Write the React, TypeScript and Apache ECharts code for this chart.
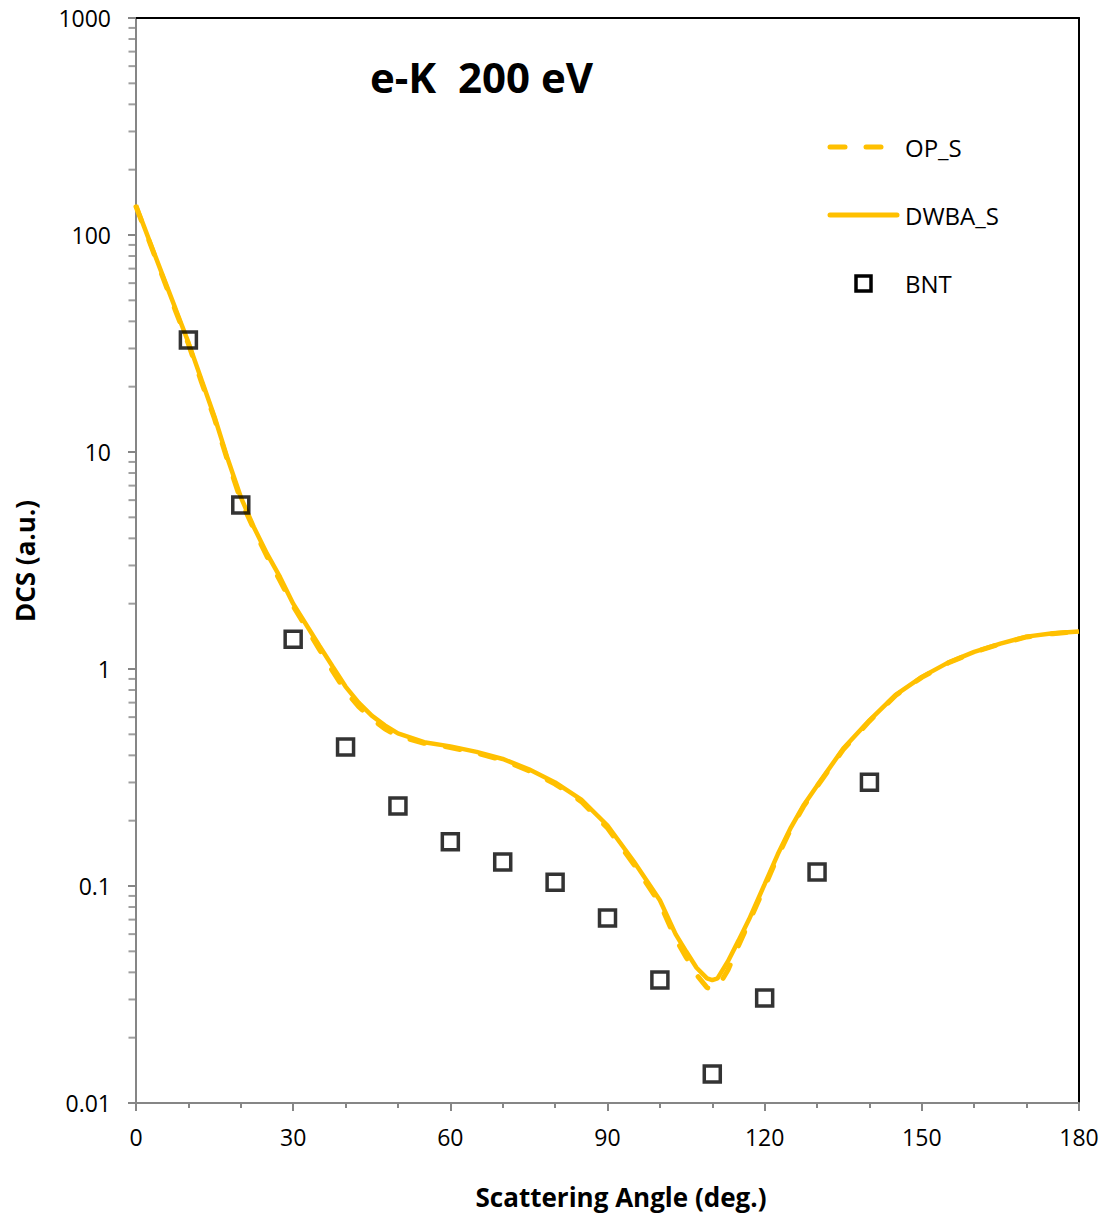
import React, { useEffect, useRef } from "react";
import * as echarts from "echarts";

const dwbaAngles = [0, 2.5, 5, 7.5, 10, 12.5, 15, 17.5, 20, 22.5, 25, 27.5, 30, 32.5, 35, 37.5, 40, 42.5, 45, 47.5, 50, 55, 60, 65, 70, 75, 80, 85, 90, 95, 100, 103, 105, 107, 109, 110, 111, 113, 115, 117, 120, 122.5, 125, 127.5, 130, 135, 140, 145, 150, 155, 160, 165, 170, 175, 180];
const dwbaValues = [137, 95, 66, 46, 32, 21.5, 14.5, 9.3, 6.2, 4.5, 3.4, 2.65, 2.0, 1.6, 1.28, 1.03, 0.83, 0.70, 0.61, 0.55, 0.505, 0.46, 0.44, 0.415, 0.385, 0.345, 0.30, 0.25, 0.19, 0.13, 0.086, 0.060, 0.050, 0.042, 0.0375, 0.0368, 0.0375, 0.045, 0.056, 0.070, 0.102, 0.140, 0.186, 0.237, 0.29, 0.43, 0.58, 0.76, 0.92, 1.07, 1.20, 1.31, 1.41, 1.46, 1.49];

const opAngles = dwbaAngles;
const opValues = [135, 94, 65, 45, 31.5, 21, 14.2, 9.1, 6.0, 4.4, 3.3, 2.55, 1.95, 1.55, 1.23, 0.98, 0.79, 0.67, 0.59, 0.53, 0.49, 0.455, 0.435, 0.41, 0.38, 0.34, 0.295, 0.245, 0.185, 0.126, 0.083, 0.057, 0.047, 0.039, 0.034, 0.0335, 0.034, 0.041, 0.053, 0.068, 0.099, 0.137, 0.183, 0.234, 0.287, 0.425, 0.575, 0.755, 0.915, 1.065, 1.195, 1.305, 1.405, 1.455, 1.49];

const bntAngles = [10, 20, 30, 40, 50, 60, 70, 80, 90, 100, 110, 120, 130, 140];
const bntValues = [32.8, 5.7, 1.37, 0.437, 0.234, 0.16, 0.129, 0.104, 0.0713, 0.0369, 0.0136, 0.0305, 0.116, 0.301];

const xTicks = [0, 30, 60, 90, 120, 150, 180];
const yTickLabels = ["0.01", "0.1", "1", "10", "100", "1000"];

const GOLD = "#FFC000";
const AXIS_GRAY = "#868686";
const FONT = "'Open Sans', 'Noto Sans', sans-serif";

export default function App() {
  const ref = useRef<HTMLDivElement>(null);
  useEffect(() => {
    if (!ref.current) return;
    const chart = echarts.init(ref.current, undefined, { renderer: "svg" });

    const minorTickVals: number[] = [];
    for (let e = -2; e < 3; e++) {
      for (let k = 2; k <= 9; k++) minorTickVals.push(parseFloat((k * Math.pow(10, e)).toPrecision(3)));
    }

    const yLabel = (v: number) => {
      const s = v >= 1 ? String(Math.round(v)) : String(parseFloat(v.toPrecision(1)));
      return yTickLabels.includes(s) ? s : "";
    };

    const grid = { left: 136, right: 27, top: 18, bottom: 115, containLabel: false };

    chart.setOption({
      animation: false,
      backgroundColor: "#fff",
      grid,
      xAxis: [
        {
          type: "value",
          min: xTicks[0],
          max: xTicks[xTicks.length - 1],
          interval: 30,
          axisLine: { show: true, onZero: false, lineStyle: { color: AXIS_GRAY, width: 2 } },
          axisTick: { show: true, inside: false, length: 8, lineStyle: { color: AXIS_GRAY, width: 2 } },
          minorTick: { show: true, splitNumber: 3, length: 5, lineStyle: { color: AXIS_GRAY, width: 2 } },
          splitLine: { show: false },
          axisLabel: { color: "#000", fontSize: 23, fontFamily: FONT, margin: 22 },
        },
        {
          type: "value",
          position: "top",
          min: 0,
          max: 180,
          axisLine: { show: true, onZero: false, lineStyle: { color: "#000", width: 2 } },
          axisTick: { show: false },
          axisLabel: { show: false },
          splitLine: { show: false },
        },
      ],
      yAxis: [
        {
          type: "log",
          logBase: 10,
          min: 0.01,
          max: 1000,
          splitNumber: 5,
          axisLine: { show: true, onZero: false, lineStyle: { color: AXIS_GRAY, width: 2 } },
          axisTick: { show: true, inside: false, length: 8, lineStyle: { color: AXIS_GRAY, width: 2 } },
          splitLine: { show: false },
          axisLabel: { color: "#000", fontSize: 23, fontFamily: FONT, margin: 25, formatter: yLabel },
        },
        {
          type: "log",
          logBase: 10,
          min: 0.01,
          max: 1000,
          position: "right",
          axisLine: { show: true, onZero: false, lineStyle: { color: "#000", width: 2 } },
          axisTick: { show: false },
          axisLabel: { show: false },
          splitLine: { show: false },
        },
      ],
      series: [
        {
          name: "minorTicks",
          type: "scatter",
          silent: true,
          clip: false,
          z: 1,
          symbol: "rect",
          symbolSize: [7, 2],
          symbolOffset: [-4, 0],
          itemStyle: { color: AXIS_GRAY },
          data: minorTickVals.map((v) => [0, v]),
        },
        {
          name: "OP_S",
          type: "line",
          showSymbol: false,
          symbol: "none",
          z: 2,
          data: opAngles.map((a, i) => [a, opValues[i]]),
          lineStyle: { color: GOLD, width: 5, type: [15, 21], cap: "round" },
        },
        {
          name: "DWBA_S",
          type: "line",
          showSymbol: false,
          symbol: "none",
          z: 3,
          data: dwbaAngles.map((a, i) => [a, dwbaValues[i]]),
          lineStyle: { color: GOLD, width: 4.5, type: "solid" },
        },
        {
          name: "BNT",
          type: "scatter",
          z: 4,
          symbol: "rect",
          symbolSize: 16,
          itemStyle: { color: "rgba(0,0,0,0)", borderColor: "#000", borderWidth: 3.5 },
          data: bntAngles.map((a, i) => [a, bntValues[i]]),
        },
      ],
      graphic: [
        {
          type: "text",
          x: 370,
          y: 76,
          style: { text: "e-K  200 eV", font: `bold 42px ${FONT}`, fill: "#000", verticalAlign: "middle" },
        },
        {
          type: "text",
          x: 621,
          y: 1197,
          style: { text: "Scattering Angle (deg.)", font: `bold 26px ${FONT}`, fill: "#000", align: "center", verticalAlign: "middle" },
        },
        {
          type: "text",
          x: 25,
          y: 561,
          rotation: Math.PI / 2,
          style: { text: "DCS (a.u.)", font: `bold 26px ${FONT}`, fill: "#000", align: "center", verticalAlign: "middle" },
        },
        { type: "line", shape: { x1: 830, y1: 147, x2: 845, y2: 147 }, style: { stroke: GOLD, lineWidth: 5, lineCap: "round" } },
        { type: "line", shape: { x1: 866, y1: 147, x2: 881, y2: 147 }, style: { stroke: GOLD, lineWidth: 5, lineCap: "round" } },
        { type: "text", x: 905, y: 147, style: { text: "OP_S", font: `24px ${FONT}`, fill: "#000", verticalAlign: "middle" } },
        { type: "line", shape: { x1: 830, y1: 215, x2: 897, y2: 215 }, style: { stroke: GOLD, lineWidth: 5, lineCap: "round" } },
        { type: "text", x: 905, y: 215, style: { text: "DWBA_S", font: `24px ${FONT}`, fill: "#000", verticalAlign: "middle" } },
        { type: "rect", shape: { x: 856, y: 276, width: 15, height: 15 }, style: { fill: "none", stroke: "#000", lineWidth: 3.5 } },
        { type: "text", x: 905, y: 283, style: { text: "BNT", font: `24px ${FONT}`, fill: "#000", verticalAlign: "middle" } },
      ],
    });
    return () => chart.dispose();
  }, []);

  return <div ref={ref} style={{ position: "fixed", left: 0, top: 0, width: 1106, height: 1218 }} />;
}
